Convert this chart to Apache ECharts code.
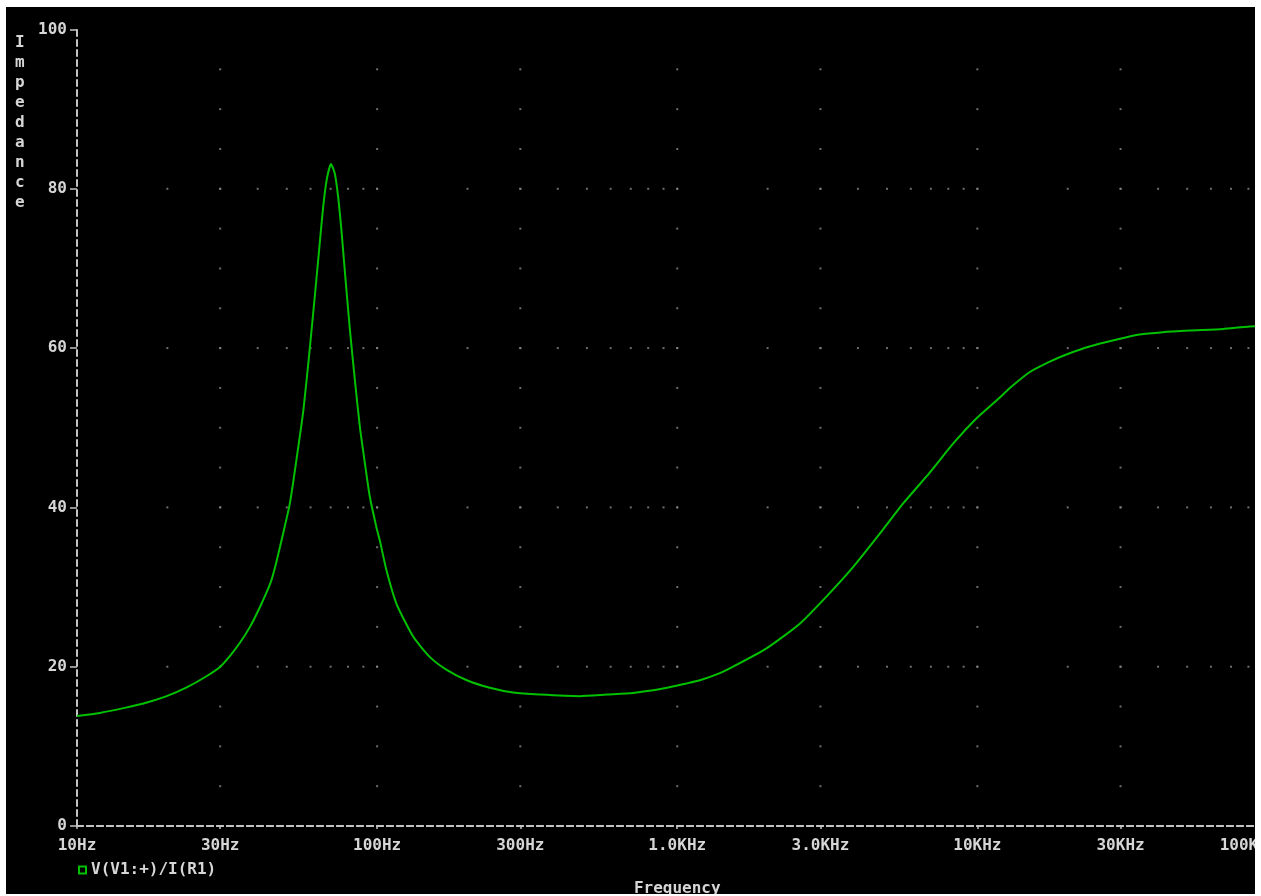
<!DOCTYPE html>
<html>
<head>
<meta charset="utf-8">
<script src="https://cdn.jsdelivr.net/npm/echarts@6/dist/echarts.min.js"></script>
<style>
  html, body { margin: 0; padding: 0; background: #ffffff; width: 1261px; height: 896px; overflow: hidden; }
  #chart { position: absolute; left: 6px; top: 7px; width: 1249px; height: 887px; background: #000000; }
</style>
</head>
<body>
<div id="chart"></div>
<script>
// ---- data ----
const freqHz = [10, 11.9, 14.3, 17.1, 19.9, 23.2, 27, 30, 32.4, 34.9, 37.7, 40.7, 44, 45.7, 48.6, 51.2, 54, 56.8, 59.7, 62.1, 64.5, 66.1, 67.9, 70.2, 72.3, 74.2, 76.2, 78.2, 81.2, 84.3, 87.6, 91, 94.6, 99.6, 102, 107.6, 116, 132, 150, 170.5, 199, 237.5, 284, 348, 474, 582, 713, 897, 1074, 1189, 1387, 1535, 1983, 2560, 3140, 3853, 4730, 5660, 6950, 8300, 9940, 11880, 12830, 14960, 17430, 19800, 23650, 29400, 34700, 41500, 51000, 65900, 80700, 100000];
const impedance = [13.8, 14.2, 14.8, 15.5, 16.3, 17.4, 18.8, 20.0, 21.4, 23.0, 25.0, 27.5, 30.4, 32.5, 36.7, 40.5, 46.3, 52.2, 60.1, 66.8, 73.5, 77.7, 81.1, 83.1, 81.9, 78.9, 74.4, 69.3, 62.2, 56.0, 50.1, 45.6, 41.3, 37.4, 35.9, 32.0, 27.9, 23.75, 21.2, 19.6, 18.3, 17.35, 16.75, 16.5, 16.3, 16.5, 16.7, 17.25, 17.9, 18.3, 19.2, 20.0, 22.3, 25.4, 28.8, 32.5, 36.7, 40.5, 44.4, 48.0, 51.2, 53.8, 55.0, 57.0, 58.3, 59.2, 60.2, 61.1, 61.7, 62.0, 62.2, 62.4, 62.7, 62.8];
const xTickValues = [10, 30, 100, 300, 1000, 3000, 10000, 30000, 100000];
const xTickLabels = ['10Hz', '30Hz', '100Hz', '300Hz', '1.0KHz', '3.0KHz', '10KHz', '30KHz', '100KHz'];
const yMajor = [20, 40, 60, 80];
const decades = [10, 100, 1000, 10000];
const seriesName = 'V(V1:+)/I(R1)';

// ---- dotted grid (dots at minor ticks along major grid lines) ----
const gridDots = [];
yMajor.forEach(function (y) {
  decades.forEach(function (d) {
    for (let m = 1; m <= 9; m++) {
      const f = m * d;
      if (f > 10) gridDots.push([f, y]);
    }
  });
});
xTickValues.slice(1, -1).forEach(function (f) {
  for (let y = 5; y < 100; y += 5) gridDots.push([f, y]);
});

const pairs = freqHz.map(function (f, i) { return [f, impedance[i]]; });

const FONT = 'DejaVu Sans Mono';
const TXT = '#d6d6d6';
const AXC = '#c4c4c4';
const FS = 16;

const chart = echarts.init(document.getElementById('chart'), null, { renderer: 'canvas' });
chart.setOption({
  backgroundColor: '#000000',
  animation: false,
  title: {
    text: 'I\nm\np\ne\nd\na\nn\nc\ne',
    left: 9, top: 26, padding: 0,
    textStyle: { color: TXT, fontFamily: FONT, fontWeight: 'bold', fontSize: FS, lineHeight: 20 }
  },
  legend: {
    data: [seriesName],
    left: 72, top: 855, padding: 0,
    itemWidth: 7, itemHeight: 7,
    icon: 'rect',
    itemStyle: { color: '#000000', borderColor: '#00c000', borderWidth: 2 },
    textStyle: { color: TXT, fontFamily: FONT, fontWeight: 'bold', fontSize: FS }
  },
  grid: { left: 71, top: 22.5, right: -22.5, bottom: 68, containLabel: false, outerBoundsMode: 'none' },
  xAxis: [{
    type: 'log', logBase: 10, min: 10, max: 100000,
    position: 'bottom',
    name: 'Frequency', nameLocation: 'middle', nameGap: 55,
    nameTextStyle: { color: TXT, fontFamily: FONT, fontWeight: 'bold', fontSize: FS },
    axisLine: { show: true, lineStyle: { color: AXC, width: 2, type: [6, 4] } },
    axisTick: { show: true, length: 3, customValues: xTickValues, lineStyle: { color: AXC, width: 1.5 } },
    axisLabel: {
      customValues: xTickValues, margin: 12, alignMaxLabel: 'right',
      color: TXT, fontFamily: FONT, fontWeight: 'bold', fontSize: FS,
      formatter: function (v) {
        const i = xTickValues.findIndex(function (t) { return Math.abs(t - v) / t < 1e-6; });
        return i >= 0 ? xTickLabels[i] : '';
      }
    },
    splitLine: { show: false }, minorTick: { show: false }, minorSplitLine: { show: false }
  }, {
    type: 'log', logBase: 10, min: 10, max: 100000, position: 'top',
    axisLine: { show: true, lineStyle: { color: AXC, width: 2, type: [6, 4] } },
    axisTick: { show: false }, axisLabel: { show: false }, splitLine: { show: false }
  }],
  yAxis: [{
    type: 'value', min: 0, max: 100, interval: 20, position: 'left',
    axisLine: { show: true, lineStyle: { color: AXC, width: 2, type: [6, 4] } },
    axisTick: { show: true, length: 7, lineStyle: { color: AXC, width: 1.5 } },
    axisLabel: { margin: 10, color: TXT, fontFamily: FONT, fontWeight: 'bold', fontSize: FS },
    splitLine: { show: false }
  }, {
    type: 'value', min: 0, max: 100, interval: 20, position: 'right',
    axisLine: { show: true, lineStyle: { color: AXC, width: 2, type: [6, 4] } },
    axisTick: { show: false }, axisLabel: { show: false }, splitLine: { show: false }
  }],
  series: [{
    name: 'grid-dots', type: 'scatter', silent: true,
    xAxisIndex: 0, yAxisIndex: 0,
    symbol: 'rect', symbolSize: 2,
    itemStyle: { color: '#8a8a8a' },
    data: gridDots, z: 1
  }, {
    name: seriesName, type: 'line',
    xAxisIndex: 0, yAxisIndex: 0,
    data: pairs, showSymbol: false, smooth: 0.2,
    lineStyle: { color: '#00c000', width: 2 },
    itemStyle: { color: '#00c000' },
    z: 3
  }]
});
</script>
</body>
</html>
